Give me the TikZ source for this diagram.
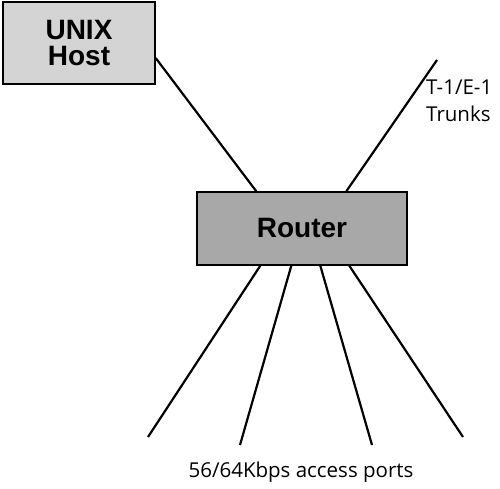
\documentclass[tikz,border=0pt]{standalone}
\usepackage{fontspec}
\setmainfont{Open Sans}
\newfontfamily\heavyfont{Liberation Sans}
\begin{document}
\begin{tikzpicture}[x=1pt,y=-1pt,
    box/.style={draw,line width=1.4pt,inner sep=0pt,align=center,
        font=\heavyfont\bfseries\fontsize{28}{26}\selectfont},
    wire/.style={line width=2.2pt},
    lbl/.style={font=\fontsize{20.5}{27}\selectfont,inner sep=0pt}]
    \useasboundingbox (0,0) rectangle (500,489);

    \node (host) at (79,43) [box,fill=black!17,minimum width=152pt,minimum height=82pt]{UNIX\\Host};
    \node (router) at (302,228.5) [box,fill=black!34,minimum width=210pt,minimum height=73pt]{Router};

    \coordinate (trunk) at (437,60);
    \draw[wire] ([yshift=-15pt]host.east) -- ([xshift=60pt]router.north west);
    \draw[wire] ([xshift=150pt]router.north west) -- (trunk);

    \foreach \s/\ex/\ey in {64/148/437,95/240/445,124/372/445,153/463/437}
    {
        \coordinate (port\s) at (\ex,\ey);
        \draw[wire] ([xshift=\s pt]router.south west) -- (port\s);
    }

    \node (trunklabel) at (426,80) [lbl,anchor=north west,align=left]{T-1/E-1\\Trunks};
    \node (portlabel) at (301,472) [lbl]{56/64Kbps access ports};
\end{tikzpicture}
\end{document}
